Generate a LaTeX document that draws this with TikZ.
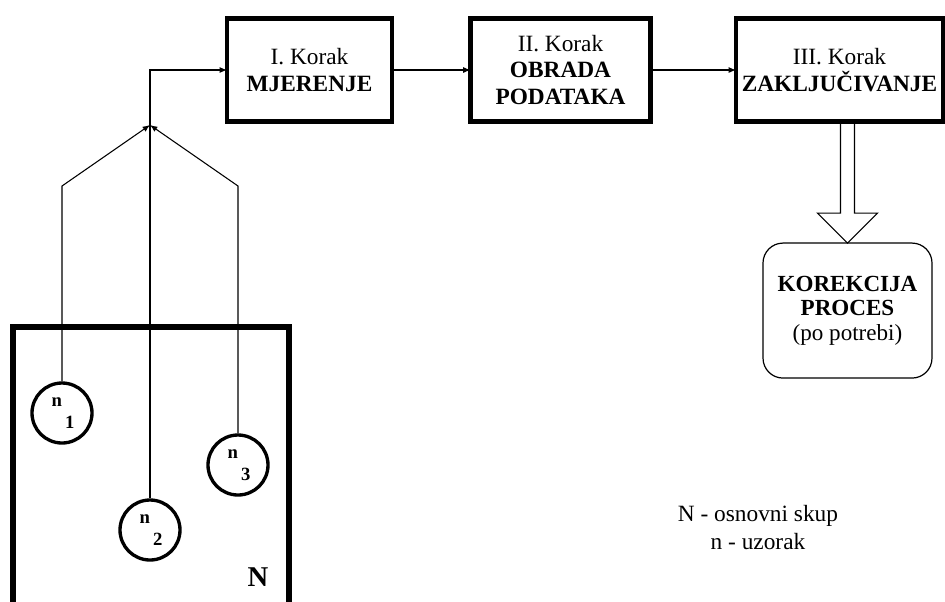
\documentclass[tikz,border=0pt]{standalone}
\usepackage{fontspec}
\setmainfont{Liberation Serif}
\usetikzlibrary{positioning,calc,arrows.meta}

\tikzset{
	korak/.style={draw, line width=3.4pt, outer sep=0pt, minimum height=77.6pt, align=center, font=\fontsize{17.5}{20}\selectfont},
	uzorak/.style={draw, circle, line width=2.5pt, minimum size=45pt, inner sep=0pt, align=center, font=\fontsize{14}{16.5}\selectfont\bfseries},
	veza/.style={line width=0.8pt, -{Latex[length=5.5pt,width=4.5pt]}},
	blok/.style={line width=0.8pt, line join=miter},
}

\begin{document}
\begin{tikzpicture}[x=0.75pt, y=-0.75pt]
				\useasboundingbox (0,0) rectangle (945,601);
				
				\node[korak, minimum width=123.75pt] (k1) at (309.5,70) {I. Korak\\\textbf{MJERENJE}};
				\node[korak, minimum width=135pt, right=58.9pt of k1] (k2) {II. Korak\\\textbf{OBRADA}\\\textbf{PODATAKA}};
				\node[korak, minimum width=155.25pt, right=64.1pt of k2] (k3) {III. Korak\\\textbf{ZAKLJUČIVANJE}};
				
				\node[draw, line width=0.9pt, rounded corners=15pt, outer sep=0pt, minimum width=126.75pt, minimum height=101.25pt, align=center, font=\fontsize{17.3}{18.5}\selectfont, below=91pt of k3, xshift=6pt] (kor) {\textbf{KOREKCIJA}\\\textbf{PROCES}\\(po potrebi)};
				
				% osnovni skup
				\draw[line width=4pt] (13,606) |- (289,327) -- (289,606);
				\node[font=\fontsize{21.5}{24}\selectfont\bfseries] (nlab) at (258,577) {N};
				
				\node[uzorak] (n1) at (62,413) {\llap{n}\\\rlap{\,1}};
				\node[uzorak] (n2) at (150,530) {\llap{n}\\\rlap{\,2}};
				\node[uzorak] (n3) at (238,465) {\llap{n}\\\rlap{\,3}};
				
				\coordinate (j1) at (62,186);
				\coordinate (j3) at (238,186);
				\coordinate (j) at (150,125);
				
				\draw[veza] (n1) -- (j1) -- (j);
				\draw[veza] (n3) -- (j3) -- (j);
				\draw[veza] (n2) |- (k1);
				\draw[veza] (k1) -- (k2);
				\draw[veza] (k2) -- (k3);
				
				% sirina strelice
				\draw[blok] ($(kor.north |- k3.south)+(-7,0)$) -- ($(kor.north)+(-7,-30)$) -- ($(kor.north)+(-30,-30)$) -- (kor.north) -- ($(kor.north)+(30,-30)$) -- ($(kor.north)+(7,-30)$) -- ($(kor.north |- k3.south)+(7,0)$);
				
				\node[align=center, font=\fontsize{17.5}{21}\selectfont] (leg) at (758,528) {N - osnovni skup\\n - uzorak};
				
			\end{tikzpicture}
\end{document}
